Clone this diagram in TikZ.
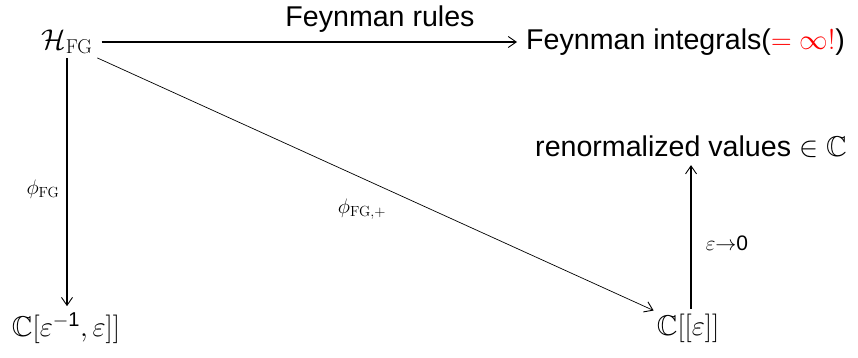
\RequirePackage{fix-cm}
\documentclass[tikz,border=0pt]{standalone}
\usepackage{amsmath,amssymb}
\usepackage[no-math]{fontspec}
\setmainfont{Liberation Sans}
\usetikzlibrary{arrows.meta}
\begin{document}
\begin{tikzpicture}[x=1pt,y=-1pt,
  big/.style={font=\fontsize{28.6}{34}\selectfont, inner sep=3pt},
  lab/.style={font=\fontsize{21}{25}\selectfont, inner sep=1pt},
  tip/.style={-{Straight Barb[length=8pt,width=11pt,line width=0.9pt]}},
]
\useasboundingbox (0,0) rectangle (858,357);
\node[big] (H) at (67,42) {$\mathcal{H}_{\mathrm{FG}}$};
\node[big,anchor=west,inner sep=0pt] (FI) at (526,42) {Feynman integrals(\textcolor{red}{$=\infty!$})};
\node[big,inner sep=0pt] (FR) at (380,19) {Feynman rules};
\node[big] (R) at (691,147) {renormalized values $\in\mathbb{C}$};
\node[big] (C1) at (66,328) {$\mathbb{C}[\varepsilon^{-\text{1}},\varepsilon]]$};
\node[big] (C2) at (688,328) {$\mathbb{C}[[\varepsilon]]$};
\node[lab] (p1) at (43,189) {$\phi_{\mathrm{FG}}$};
\node[lab] (p2) at (362,209) {$\phi_{\mathrm{FG},+}$};
\node[lab] (p3) at (727,243) {$\varepsilon{\rightarrow}\text{0}$};
\draw[tip, line width=1.4pt, shorten <=6pt, shorten >=9pt] (H.east) -- (FI.west);
\draw[tip, line width=1.2pt, shorten <=1pt, shorten >=3pt] (H.south) -- (H.south |- C1.north);
\draw[tip, line width=0.7pt, shorten <=2pt] (H.south east) -- (C2.north west);
\draw[tip, line width=2.5pt, shorten <=2pt, shorten >=4pt] (C2.north -| R.south) -- (R.south);
\end{tikzpicture}
\end{document}
